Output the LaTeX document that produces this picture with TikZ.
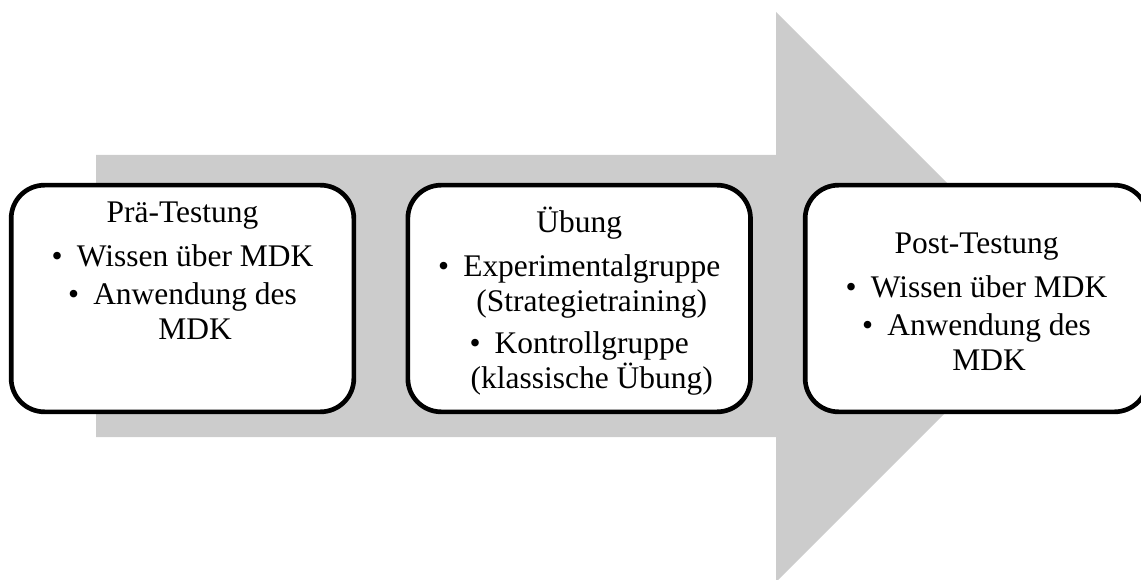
\documentclass[tikz,border=0pt]{standalone}
\usepackage{fontspec}
\setmainfont{Liberation Serif}
\usetikzlibrary{positioning}
\definecolor{arrowgray}{RGB}{204,204,204}
\newcommand{\blt}{\textbullet\hspace{0.45em}}
\newcommand{\wrapind}{\phantom{\blt}}

\begin{document}
\begin{tikzpicture}[x=0.75pt,y=0.75pt,
  phase/.style={draw,line width=3.5pt,rounded corners=25pt,fill=white,minimum width=257pt,minimum height=170pt,outer sep=0pt,inner sep=0pt},
  phasetext/.style={align=center,inner sep=0pt,font=\fontsize{23.6}{26.3}\selectfont}]
\useasboundingbox (0,0) rectangle (1141,579);
\fill[arrowgray] (96,142) -- (776,142) -- (776,-3) -- (1061,282) -- (776,567) -- (776,424) -- (96,424) -- cycle;
\node[phase](pre) at (182.5,280.5){};
\node[phase, right=40.5pt of pre](uebung){};
\node[phase, right=41pt of uebung](post){};
\node[phasetext, below=12pt of pre.north](pretext){Prä-Testung\\[7pt] \blt Wissen über MDK\\[2pt] \blt Anwendung des\\ \wrapind MDK};
\node[phasetext, yshift=-2pt](uebungtext) at (uebung){Übung\\[7pt] \blt Experimentalgruppe\\ \wrapind(Strategietraining)\\[5pt] \blt Kontrollgruppe\\ \wrapind(klassische Übung)};
\node[phasetext, yshift=-2.5pt](posttext) at (post){Post-Testung\\[7pt] \blt Wissen über MDK\\[2pt] \blt Anwendung des\\ \wrapind MDK};
\end{tikzpicture}
\end{document}
